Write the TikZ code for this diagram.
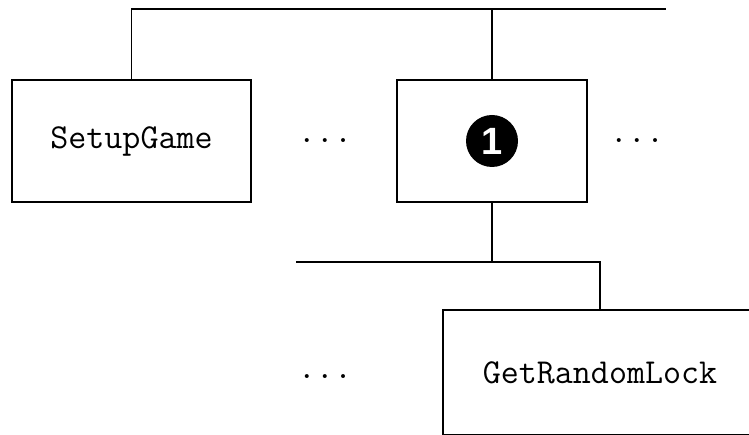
\documentclass[tikz,border=0pt]{standalone}
\usepackage{fontspec}
\setsansfont{Liberation Sans}
\tikzset{
  unit/.style={draw, rectangle, line width=1.6pt, inner sep=0pt,
    font=\ttfamily\fontsize{35}{35}\selectfont},
  gap/.style={anchor=base, font=\ttfamily\fontsize{35}{35}\selectfont},
  link/.style={line width=1.6pt},
  mark1/.style={circle, fill=black, inner sep=0pt, minimum size=52pt,
    text=white, font=\sffamily\bfseries\fontsize{38}{38}\selectfont},
}
\begin{document}
\begin{tikzpicture}[x=1pt,y=-1pt]
    \useasboundingbox (0,0) rectangle (749,435);
    \clip (0,0) rectangle (749,435);
    % first level
    \node[unit, minimum width=239pt, minimum height=122pt] (setup) at (131.5,141) {SetupGame};
    \node[unit, minimum width=190pt, minimum height=122pt] (mid) at (492,141) {};
    \node[mark1] (one) at (mid.center) {1};
    \node[gap] (dotsA) at (325,143) {...};
    \node[gap] (dotsB) at (637,143) {...};
    \coordinate (busR) at (666,9);
    \draw[link] (setup.north) |- (busR);
    \draw[link] (mid.north) -- (mid.north |- busR);
    % second level
    \node[unit, minimum width=314pt, minimum height=125pt] (lock) at (600,372.5) {GetRandomLock};
    \node[gap] (dotsC) at (325,378) {...};
    \coordinate (busB) at (296,262);
    \draw[link] (mid.south) -- (mid.south |- busB);
    \draw[link] (busB) -| (lock.north);
\end{tikzpicture}
\end{document}
